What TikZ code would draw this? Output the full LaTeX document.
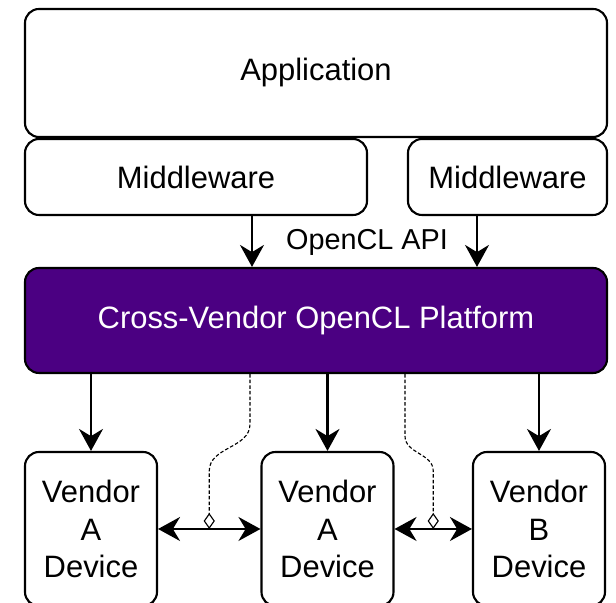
\documentclass[tikz,border=0pt]{standalone}
\usepackage{fontspec}
\setmainfont{Liberation Sans}
\usepackage{tikz}
\usetikzlibrary{arrows.meta,positioning,calc}
\usepackage{xcolor}
\definecolor{cvindigo}{HTML}{4B0082}
\tikzset{
  layer/.style    = {draw, line width=1.5pt, rounded corners=0.35cm,
                     inner sep=0pt, align=center},
  platform/.style = {layer, fill=cvindigo, text=white},
  device/.style   = {layer, minimum width=3.3cm, minimum height=3.85cm},
  sig/.style      = {-{Stealth[length=5.5mm,width=6mm,inset=1.8mm]}, line width=1.6pt},
  duplex/.style   = {{Stealth[length=5.5mm,width=6mm,inset=1.8mm]}-{Stealth[length=5.5mm,width=6mm,inset=1.8mm]},
                     line width=1.6pt},
  assoc/.style    = {-{Diamond[open,length=4mm,width=2.8mm,line width=0.8pt]},
                     line width=0.8pt, dash pattern=on 2.5pt off 1.5pt},
}

\begin{document}
\begin{tikzpicture}[x=1cm,y=1cm,font=\fontsize{22}{26.6}\selectfont]
\useasboundingbox (0,0) rectangle (15.4,15.075);
% ---- software stack ----
\node[layer, minimum width=14.55cm, minimum height=3.2cm] (app) at (7.9,13.25) {Application};
\node[layer, minimum width=8.55cm, minimum height=1.9cm] (mwL) at (4.9,10.65) {Middleware};
\node[layer, minimum width=4.975cm, minimum height=1.9cm] (mwR) at (12.6875,10.65) {Middleware};
\node[platform, minimum width=14.55cm, minimum height=2.625cm] (cvp) at (7.9,7.0625) {Cross-Vendor OpenCL Platform};
\node[font=\fontsize{20.5}{24}\selectfont] (api) at (9.175,9.025) {OpenCL API};
\coordinate (tapL) at (6.3,0);
\coordinate (tapR) at (11.925,0);
\draw[sig] (mwL.south -| tapL) -- (cvp.north -| tapL);
\draw[sig] (mwR.south -| tapR) -- (cvp.north -| tapR);
% ---- devices ----
\node[device] (devA1) at (2.275,1.85) {Vendor\\A\\Device};
\node[device] (devA2) at (8.1875,1.85) {Vendor\\A\\Device};
\node[device] (devB) at (13.475,1.85) {Vendor\\B\\Device};
\foreach \d in {devA1,devA2,devB}
  \draw[sig] (cvp.south -| \d.north) -- (\d.north);
\draw[duplex] (devA1.east) -- coordinate (lnkL) (devA2.west);
\draw[duplex] (devA2.east) -- coordinate (lnkR) (devB.west);
% dashed hooks from the platform onto the peer links
\draw[assoc] ([xshift=-1.65cm]cvp.south) -- ++(0,-1.25) to[out=-90,in=90] ($(lnkL)+(0,1.45)$) -- (lnkL);
\draw[assoc] ([xshift=2.225cm]cvp.south) -- ++(0,-1.55) to[out=-90,in=90] ($(lnkR)+(0,1.45)$) -- (lnkR);
\end{tikzpicture}
\end{document}
